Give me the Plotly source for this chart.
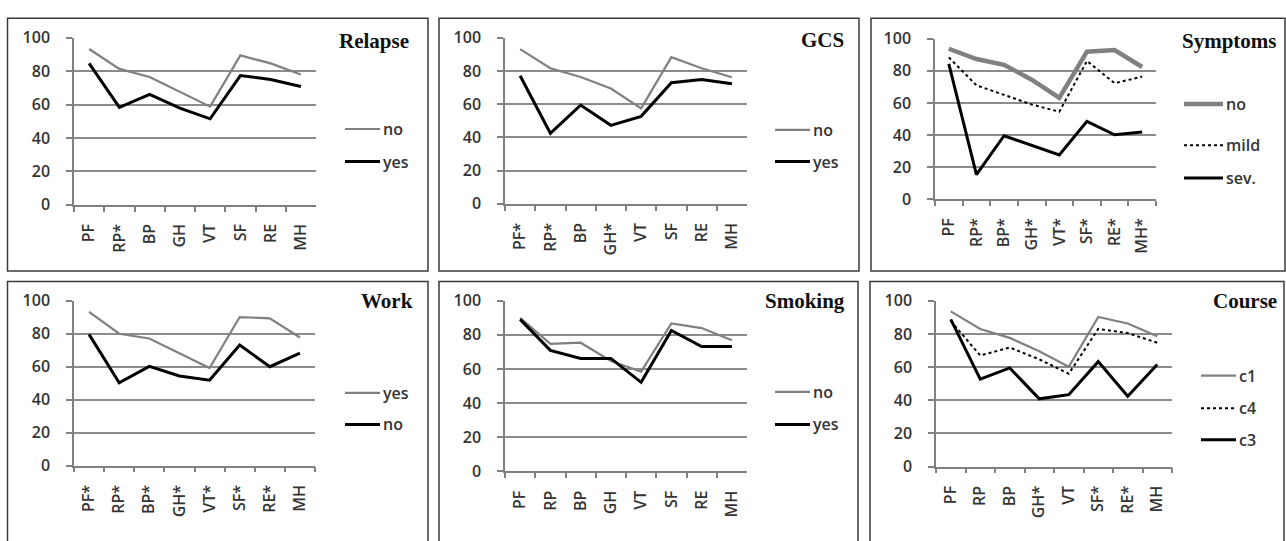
import plotly.graph_objects as go

W, H = 1286, 541

# SF-36 domain labels per panel (asterisk marks a significant difference)
relapse_labels = ["PF", "RP*", "BP", "GH", "VT", "SF", "RE", "MH"]
gcs_labels = ["PF*", "RP*", "BP", "GH*", "VT", "SF", "RE", "MH"]
symptoms_labels = ["PF", "RP*", "BP*", "GH*", "VT*", "SF*", "RE*", "MH*"]
work_labels = ["PF*", "RP*", "BP*", "GH*", "VT*", "SF*", "RE*", "MH"]
smoking_labels = ["PF", "RP", "BP", "GH", "VT", "SF", "RE", "MH"]
course_labels = ["PF", "RP", "BP", "GH*", "VT", "SF*", "RE*", "MH"]

# Mean scores
relapse_no = [93.3, 81.4, 76.6, 67.8, 58.8, 89.5, 84.7, 78.0]
relapse_yes = [84.7, 58.4, 66.1, 57.9, 51.5, 77.4, 75.1, 70.9]

gcs_no = [93.2, 81.7, 76.4, 69.5, 57.5, 88.4, 81.7, 76.3]
gcs_yes = [77.2, 42.5, 59.5, 47.3, 52.7, 73.0, 74.9, 72.4]

symptoms_no = [93.8, 87.4, 83.8, 74.5, 63.1, 92.0, 93.0, 82.4]
symptoms_mild = [88.4, 71.0, 65.0, 59.0, 54.5, 86.2, 72.3, 76.4]
symptoms_sev = [84.4, 15.2, 39.5, 33.5, 27.5, 48.5, 40.1, 41.9]

work_yes = [93.2, 80.0, 77.1, 68.0, 59.2, 90.1, 89.3, 77.7]
work_no = [79.6, 50.3, 60.2, 54.4, 51.8, 73.2, 60.0, 68.3]

smoking_no = [90.0, 74.7, 75.4, 64.7, 58.5, 86.7, 84.0, 76.9]
smoking_yes = [89.1, 70.9, 66.2, 66.2, 52.2, 82.6, 73.2, 73.2]

course_c1 = [93.6, 83.0, 77.6, 69.5, 60.2, 90.2, 86.3, 78.6]
course_c4 = [87.8, 67.0, 71.8, 64.7, 56.0, 83.0, 80.5, 74.7]
course_c3 = [88.8, 52.7, 59.5, 40.9, 43.4, 63.3, 42.5, 61.6]

y_ticks = [0, 20, 40, 60, 80, 100]

# Line styles
GREY = "#808080"
STYLES = {
    "grey": dict(color=GREY, width=2.2, dash="solid"),
    "thick": dict(color=GREY, width=4.5, dash="solid"),
    "black": dict(color="#000000", width=3, dash="solid"),
    "dot": dict(color="#000000", width=2, dash="dot"),
}

# Panel layout in pixels: plot box (left, right, top, bottom), frame box,
# title right edge / centre, legend key x-range and key rows.
panels = [
    dict(title="Relapse", labels=relapse_labels,
         series=[("no", relapse_no, "grey"), ("yes", relapse_yes, "black")],
         box=(74, 316, 28, 202), frame=(7.5, 428, 7.5, 271),
         title_pos=(411, 31), key_x=(345, 380), key_y=[123, 157]),
    dict(title="GCS", labels=gcs_labels,
         series=[("no", gcs_no, "grey"), ("yes", gcs_yes, "black")],
         box=(505, 747, 28, 201), frame=(439, 859, 7.5, 271),
         title_pos=(846, 30), key_x=(775, 810), key_y=[124, 157]),
    dict(title="Symptoms", labels=symptoms_labels,
         series=[("no", symptoms_no, "thick"), ("mild", symptoms_mild, "dot"),
                 ("sev.", symptoms_sev, "black")],
         box=(935, 1156, 29, 196), frame=(871, 1285, 7.5, 271),
         title_pos=(1279, 31), key_x=(1184, 1223), key_y=[97, 140, 174]),
    dict(title="Work", labels=work_labels,
         series=[("yes", work_yes, "grey"), ("no", work_no, "black")],
         box=(74, 315, 302, 474), frame=(7.5, 428, 282, 600),
         title_pos=(415, 302), key_x=(345, 380), key_y=[398, 431]),
    dict(title="Smoking", labels=smoking_labels,
         series=[("no", smoking_no, "grey"), ("yes", smoking_yes, "black")],
         box=(505, 747, 302, 480), frame=(439, 858, 282, 600),
         title_pos=(847, 302), key_x=(775, 810), key_y=[397, 431]),
    dict(title="Course", labels=course_labels,
         series=[("c1", course_c1, "grey"), ("c4", course_c4, "dot"),
                 ("c3", course_c3, "black")],
         box=(936, 1172, 302, 475), frame=(870, 1284, 282, 600),
         title_pos=(1279, 302), key_x=(1201, 1236), key_y=[380, 414, 447]),
]


def px_x(x):
    return x / W


def px_y(y):
    return 1 - y / H


TEXT_FONT = dict(family="Open Sans", size=16, color="#333333", weight=600)
TITLE_FONT = dict(family="Liberation Serif", size=21, color="#111111", weight="bold")

fig = go.Figure()
shapes = []
annotations = []
layout_axes = {}

for i, p in enumerate(panels, start=1):
    sfx = "" if i == 1 else str(i)
    left, right, top, bottom = p["box"]

    for name, values, style in p["series"]:
        fig.add_trace(go.Scatter(
            x=p["labels"], y=values, mode="lines", name=name,
            line=STYLES[style], showlegend=False,
            xaxis="x" + sfx, yaxis="y" + sfx,
        ))

    layout_axes["xaxis" + sfx] = dict(
        domain=[px_x(left), px_x(right)], anchor="y" + sfx,
        type="category", categoryorder="array", categoryarray=p["labels"],
        range=[-0.5, 7.5], tickson="boundaries", ticks="outside",
        ticklen=5, tickwidth=1.5, tickcolor=GREY, showline=True,
        linecolor=GREY, linewidth=1.5, showgrid=False, tickangle=-90,
        tickfont=TEXT_FONT, ticklabelstandoff=11, fixedrange=True,
    )
    layout_axes["yaxis" + sfx] = dict(
        domain=[px_y(bottom), px_y(top)], anchor="x" + sfx,
        range=[0, 100], tickvals=y_ticks, ticks="outside", ticklen=6,
        tickwidth=1.5, tickcolor=GREY, showline=True, linecolor=GREY,
        linewidth=1.5, showgrid=True, gridcolor="#8c8c8c", gridwidth=1.5,
        zeroline=False, tickfont=TEXT_FONT, ticklabelstandoff=13,
        fixedrange=True,
    )

    fl, fr, ft, fb = p["frame"]
    shapes.append(dict(type="rect", xref="paper", yref="paper",
                       x0=px_x(fl), x1=px_x(fr), y0=px_y(fb), y1=px_y(ft),
                       line=dict(color="#3a3a3a", width=1.5)))

    tx, ty = p["title_pos"]
    annotations.append(dict(text=p["title"], xref="paper", yref="paper",
                            x=px_x(tx), y=px_y(ty), xanchor="right",
                            yanchor="middle", showarrow=False, font=TITLE_FONT))

    kx0, kx1 = p["key_x"]
    for (name, _, style), ky in zip(p["series"], p["key_y"]):
        st = STYLES[style]
        shapes.append(dict(type="line", xref="paper", yref="paper",
                           x0=px_x(kx0), x1=px_x(kx1), y0=px_y(ky), y1=px_y(ky),
                           line=dict(color=st["color"], width=st["width"],
                                     dash=st["dash"])))
        annotations.append(dict(text=name, xref="paper", yref="paper",
                                x=px_x(kx1 + 1), y=px_y(ky), xanchor="left",
                                yanchor="middle", showarrow=False,
                                font=TEXT_FONT))

fig.update_layout(
    width=W, height=H, margin=dict(l=0, r=0, t=0, b=0),
    paper_bgcolor="white", plot_bgcolor="white",
    shapes=shapes, annotations=annotations, showlegend=False,
    **layout_axes,
)

fig.write_html("out.html", config={"displayModeBar": False})
